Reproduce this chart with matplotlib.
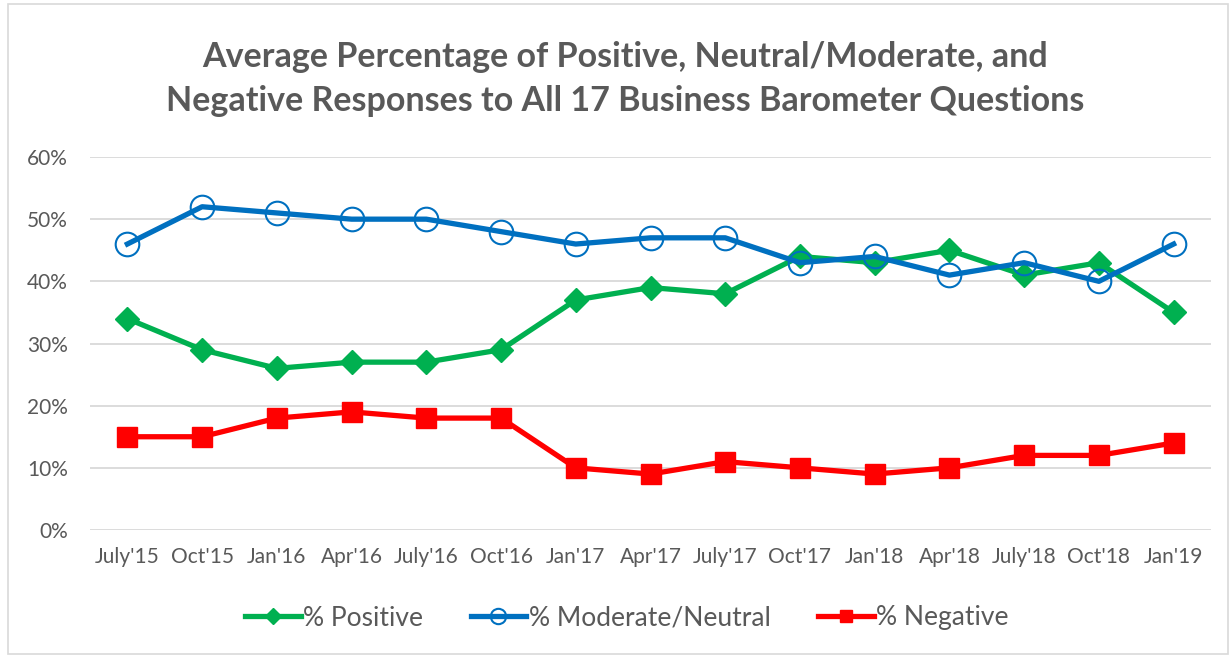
import matplotlib
matplotlib.use("Agg")
import matplotlib.pyplot as plt
from matplotlib.patches import Rectangle
from matplotlib.ticker import PercentFormatter

categories = ["July'15", "Oct'15", "Jan'16", "Apr'16", "July'16", "Oct'16", "Jan'17",
              "Apr'17", "July'17", "Oct'17", "Jan'18", "Apr'18", "July'18", "Oct'18", "Jan'19"]
positive = [34, 29, 26, 27, 27, 29, 37, 39, 38, 44, 43, 45, 41, 43, 35]
moderate = [46, 52, 51, 50, 50, 48, 46, 47, 47, 43, 44, 41, 43, 40, 46]
negative = [15, 15, 18, 19, 18, 18, 10, 9, 11, 10, 9, 10, 12, 12, 14]

plt.rcParams['font.family'] = ['Lato', 'DejaVu Sans']
gray = '#595959'

fig = plt.figure(figsize=(12.31, 6.56), dpi=100)
ax = fig.add_axes([90/1231, (656-530)/656, (1211-90)/1231, (530-157)/656])

x = list(range(len(categories)))
ax.plot(x, positive, color='#00B050', lw=3.8, marker='D', ms=12, label='% Positive', zorder=3)
ax.plot(x, moderate, color='#0070C0', lw=3.8, marker='o', ms=17,
        mfc='none', mec='#0070C0', mew=1.5, label='% Moderate/Neutral', zorder=4)
ax.plot(x, negative, color='#FF0000', lw=3.8, marker='s', ms=14, label='% Negative', zorder=3)

ax.set_xlim(-0.5, len(categories) - 0.5)
ax.set_ylim(0, 60)
ax.set_yticks(range(0, 61, 10))
ax.yaxis.set_major_formatter(PercentFormatter(decimals=0))
ax.set_xticks(x)
ax.set_xticklabels(categories)
ax.tick_params(axis='both', length=0, colors=gray, labelsize=15)
ax.tick_params(axis='x', pad=12)
ax.tick_params(axis='y', pad=16)
ax.grid(axis='y', color='#d9d9d9', lw=1.3)
ax.set_axisbelow(True)
for s in ax.spines.values():
    s.set_visible(False)

fig.text(625/1231, 1 - 57/656, "Average Percentage of Positive, Neutral/Moderate, and",
         ha='center', va='center', fontsize=24.5, fontweight='bold', color=gray)
fig.text(625/1231, 1 - 101/656, "Negative Responses to All 17 Business Barometer Questions",
         ha='center', va='center', fontsize=24.5, fontweight='bold', color=gray)

leg = fig.legend(loc='center', bbox_to_anchor=(627/1231, 1 - 618/656), ncol=3, frameon=False,
                 fontsize=19, handlelength=2.1, columnspacing=1.8, handletextpad=0.1,
                 markerscale=0.65)
for t in leg.get_texts():
    t.set_color(gray)

fig.patches.append(Rectangle((8/1231, 2/656), 1220/1231, 650/656, transform=fig.transFigure,
                             fill=False, edgecolor='#d9d9d9', lw=1.2))

fig.savefig('out.png', dpi=100)
